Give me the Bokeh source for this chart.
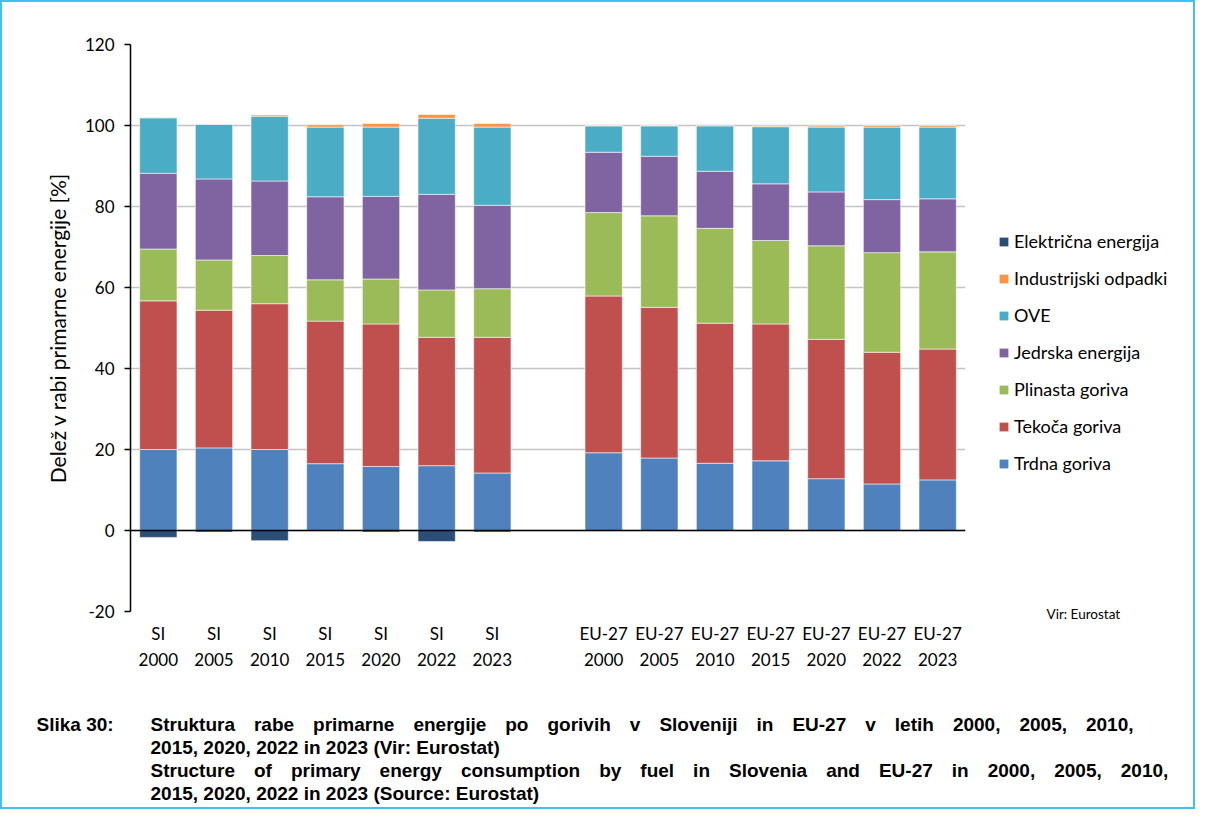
from bokeh.plotting import figure
from bokeh.layouts import column, row
from bokeh.models import (FactorRange, Range1d, FixedTicker, Span, Legend,
                          LegendItem, Label, Title, ColumnDataSource)
from bokeh.embed import file_html
from bokeh.resources import INLINE

# ---------------- data ----------------
categories = ["SI\n2000", "SI\n2005", "SI\n2010", "SI\n2015", "SI\n2020", "SI\n2022", "SI\n2023",
              "EU-27\n2000", "EU-27\n2005", "EU-27\n2010", "EU-27\n2015", "EU-27\n2020",
              "EU-27\n2022", "EU-27\n2023"]
gap_label = " "

trdna = [20.0, 20.4, 20.0, 16.5, 15.8, 16.0, 14.2, 19.2, 17.9, 16.6, 17.2, 12.8, 11.5, 12.5]
tekoca = [36.7, 34.0, 36.0, 35.2, 35.2, 31.7, 33.5, 38.7, 37.2, 34.6, 33.8, 34.4, 32.5, 32.3]
plinasta = [12.8, 12.4, 11.9, 10.2, 11.1, 11.7, 12.0, 20.6, 22.6, 23.4, 20.6, 23.1, 24.6, 24.0]
jedrska = [18.7, 20.0, 18.4, 20.5, 20.4, 23.6, 20.6, 14.9, 14.7, 14.1, 14.0, 13.3, 13.1, 13.1]
ove = [13.7, 13.5, 16.0, 17.2, 17.1, 18.8, 19.3, 6.5, 7.5, 11.2, 14.1, 16.0, 17.9, 17.7]
industrijski = [0.1, 0.1, 0.3, 0.6, 0.9, 0.9, 0.9, 0.1, 0.1, 0.2, 0.2, 0.3, 0.4, 0.4]
elektricna = [-1.7, -0.4, -2.5, 0.0, -0.4, -2.7, -0.4, 0.0, 0.0, 0.0, 0.0, 0.0, 0.0, 0.0]

series_names = ["Trdna goriva", "Tekoča goriva", "Plinasta goriva", "Jedrska energija",
                "OVE", "Industrijski odpadki", "Električna energija"]
series_colors = ["#4F81BD", "#C0504D", "#9BBB59", "#8064A2", "#4BACC6", "#F79646", "#2C4D75"]
y_ticks = [-20, 0, 20, 40, 60, 80, 100, 120]
y_tick_labels = {-20: "-20", 0: "0", 20: "20", 40: "40", 60: "60", 80: "80", 100: "100", 120: "120"}

source_note = "Vir: Eurostat"
caption_tag = "Slika 30:"
caption_lines = [
    "Struktura rabe primarne energije po gorivih v Sloveniji in EU-27 v letih 2000, 2005, 2010,",
    "2015, 2020, 2022 in 2023 (Vir: Eurostat)",
    "Structure of primary energy consumption by fuel in Slovenia and EU-27 in 2000, 2005, 2010,",
    "2015, 2020, 2022 in 2023 (Source: Eurostat)",
]
# word gaps used to imitate the justified caption lines of the original document
caption_gaps = ["\u2003", " ", "\u2003", " "]

FONT = "Lato"
CAP_FONT = "Liberation Sans"

TOTAL_W = 1191
MAIN_W = 968
MAIN_H = 688
CAP_H = 117

# ---------------- main chart ----------------
factors = categories[:7] + [gap_label] + categories[7:]

p = figure(x_range=FactorRange(*factors, range_padding=0), y_range=Range1d(-20, 120),
           width=MAIN_W, height=MAIN_H, output_backend="svg", toolbar_location=None,
           min_border_left=128, min_border_top=42, min_border_right=5, min_border_bottom=79)
p.outline_line_color = None
p.background_fill_color = "white"
p.border_fill_color = "white"

positive = [trdna, tekoca, plinasta, jedrska, ove, industrijski]
bottom = [0.0] * len(categories)
for vals, col in zip(positive, series_colors[:6]):
    top = [b + v for b, v in zip(bottom, vals)]
    src = ColumnDataSource(dict(x=categories, bottom=bottom, top=top))
    p.vbar(x="x", bottom="bottom", top="top", width=0.67, source=src,
           fill_color=col, line_color="white", line_alpha=0.55, line_width=1)
    bottom = top

src_e = ColumnDataSource(dict(x=categories, bottom=elektricna, top=[0.0] * len(categories)))
p.vbar(x="x", bottom="bottom", top="top", width=0.67, source=src_e,
       fill_color=series_colors[6], line_color="white", line_alpha=0.55, line_width=1)

p.add_layout(Span(location=0, dimension="width", line_color="black", line_width=1.5))

p.yaxis.ticker = FixedTicker(ticks=y_ticks)
p.yaxis.major_label_overrides = y_tick_labels
p.ygrid.ticker = FixedTicker(ticks=y_ticks)
p.ygrid.grid_line_color = "#C4C4C4"
p.ygrid.grid_line_width = 1.5
p.xgrid.grid_line_color = None
p.yaxis.axis_line_color = "black"
p.yaxis.axis_line_width = 1.5
p.yaxis.major_tick_line_color = "black"
p.yaxis.major_tick_line_width = 1.5
p.yaxis.major_tick_out = 6
p.yaxis.major_tick_in = 0
p.yaxis.minor_tick_line_color = None
p.yaxis.major_label_text_font = FONT
p.yaxis.major_label_text_font_size = "17px"
p.yaxis.major_label_text_color = "black"
p.yaxis.major_label_standoff = 10
p.yaxis.axis_label = "Delež v rabi primarne energije [%]"
p.yaxis.axis_label_text_font = FONT
p.yaxis.axis_label_text_font_size = "21px"
p.yaxis.axis_label_text_font_style = "normal"
p.yaxis.axis_label_text_color = "black"
p.yaxis.axis_label_standoff = 12

p.xaxis.axis_line_color = None
p.xaxis.major_tick_line_color = None
p.xaxis.minor_tick_line_color = None
p.xaxis.major_label_text_font = FONT
p.xaxis.major_label_text_font_size = "17px"
p.xaxis.major_label_text_color = "black"
p.xaxis.major_label_text_line_height = 1.25
p.xaxis.major_label_standoff = 5

# ---------------- side panel: legend + source ----------------
s = figure(x_range=Range1d(0, TOTAL_W - MAIN_W), y_range=Range1d(-20, 120),
           width=TOTAL_W - MAIN_W, height=MAIN_H, output_backend="svg", toolbar_location=None,
           x_axis_type=None, y_axis_type=None, min_border=0)
s.outline_line_color = None
s.grid.grid_line_color = None
s.background_fill_color = "white"
s.border_fill_color = "white"

items = []
for name, col in zip(series_names, series_colors):
    # zero-area key renderer, only used to draw the legend swatch
    r = s.vbar(x=[0], bottom=[0], top=[0], width=0, fill_color=col, line_color=None)
    items.append(LegendItem(label=name, renderers=[r]))
items = items[::-1]
legend = Legend(items=items, location=(28, 137), padding=0, margin=0,
                border_line_color=None, background_fill_alpha=0,
                glyph_width=11, glyph_height=11, label_height=21, spacing=15,
                label_standoff=5, label_text_font=FONT, label_text_font_size="18px",
                label_text_color="black")
s.add_layout(legend, "center")

s.add_layout(Title(text=source_note, align="left", offset=76, vertical_align="top",
                   standoff=-12, text_font=FONT, text_font_size="13.5px",
                   text_font_style="normal", text_color="black"), "below")

# ---------------- caption ----------------
c = figure(x_range=Range1d(0, TOTAL_W), y_range=Range1d(CAP_H, 0),
           width=TOTAL_W, height=CAP_H, output_backend="svg", toolbar_location=None,
           x_axis_type=None, y_axis_type=None, min_border=0)
c.outline_line_color = None
c.grid.grid_line_color = None
c.background_fill_color = "white"
c.border_fill_color = "white"

c.add_layout(Label(x=34, y=34, text=caption_tag, text_font=CAP_FONT, text_font_size="19px",
                   text_font_style="bold", text_baseline="alphabetic", text_color="black"))
for i, (line, gap) in enumerate(zip(caption_lines, caption_gaps)):
    txt = gap.join(line.split(" "))
    c.add_layout(Label(x=148, y=34 + 23 * i, text=txt, text_font=CAP_FONT,
                       text_font_size="19px", text_font_style="bold",
                       text_baseline="alphabetic", text_color="black"))

layout = column(row(p, s, spacing=0), c, spacing=0)
layout.styles = {"border": "2px solid #45BFEE"}

open("out.html", "w").write(file_html(layout, INLINE))
